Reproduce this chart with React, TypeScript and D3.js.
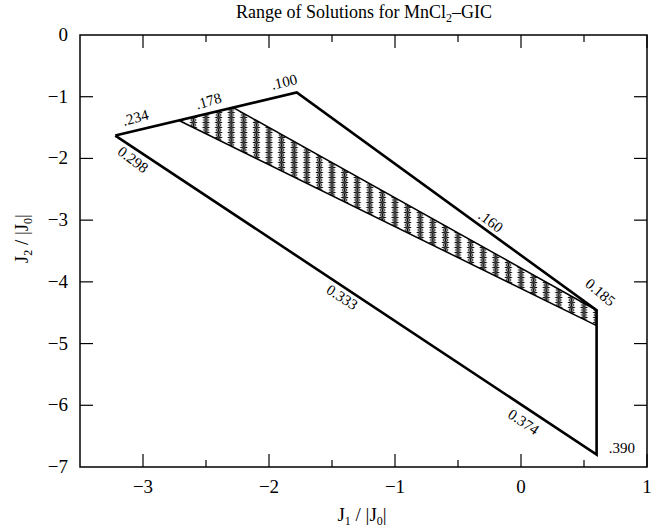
import React from "react";
import * as d3 from "d3";

// ---- data ----
const outerJ1 = [-3.22, -1.78, 0.6, 0.6, -3.22];
const outerJ2 = [-1.63, -0.93, -4.46, -6.8, -1.63];

const hatchJ1 = [-2.71, -2.29, 0.6, 0.6];
const hatchJ2 = [-1.39, -1.17, -4.46, -4.71];

const labelText = [".234", ".178", ".100", "0.298", "0.333", "0.374", ".390", ".160", "0.185"];
const labelJ1 = [-3.06, -2.48, -1.88, -3.08, -1.42, 0.02, 0.8, -0.24, 0.63];
const labelJ2 = [-1.34, -1.07, -0.76, -2.02, -4.25, -6.27, -6.7, -3.02, -4.17];
const labelAngle = [-15, -16, -13, 37, 33, 34, 0, 37, 40];

const xTicks = [-3, -2, -1, 0, 1];
const xMinorTicks = [-2.5, -1.5, -0.5, 0.5];
const yTicks = [0, -1, -2, -3, -4, -5, -6, -7];

const W = 663;
const H = 529;
const M = { left: 80, right: 647, top: 35, bottom: 467 };
const FONT = "'Liberation Serif', 'Times New Roman', Times, serif";

export default function App() {
  const x = d3.scaleLinear().domain([-3.5, 1]).range([M.left, M.right]);
  const y = d3.scaleLinear().domain([-7, 0]).range([M.bottom, M.top]);

  const line = d3
    .line<number>()
    .x((i) => x(outerJ1[i]))
    .y((i) => y(outerJ2[i]));
  const outerPath = line(outerJ1.map((_, i) => i)) as string;

  const hatchPoly = hatchJ1.map((v, i) => [x(v), y(hatchJ2[i])].join(",")).join(" ");

  const pw = x(0.1) - x(0);
  const ph = 5;
  const cx = pw / 2;
  const cy = ph / 2;
  const r = 3.6;
  const dr = 2.5;

  const majorLen = 13;
  const minorLen = 7;

  return (
    <svg
      width={W}
      height={H}
      style={{ position: "absolute", left: 0, top: 0, background: "#fff" }}
      fontFamily={FONT}
    >
      <rect x={0} y={0} width={W} height={H} fill="#fff" />
      <defs>
        <pattern
          id="hatch"
          patternUnits="userSpaceOnUse"
          x={x(-2.6) - cx}
          y={0}
          width={pw}
          height={ph}
        >
          <line x1={cx} x2={cx} y1={0} y2={ph} stroke="#000" strokeWidth={1.6} />
          <line x1={cx - r} x2={cx + r} y1={cy} y2={cy} stroke="#111" strokeWidth={1.1} />
          <line x1={cx - dr} x2={cx + dr} y1={cy - dr} y2={cy + dr} stroke="#444" strokeWidth={1.1} />
          <line x1={cx - dr} x2={cx + dr} y1={cy + dr} y2={cy - dr} stroke="#444" strokeWidth={1.1} />
        </pattern>
      </defs>

      {/* title */}
      <text x={364} y={18} textAnchor="middle" fontSize={18}>
        Range of Solutions for MnCl
        <tspan dy={4} fontSize={12}>2</tspan>
        <tspan dy={-4}>–GIC</tspan>
      </text>

      {/* frame */}
      <rect
        x={M.left}
        y={M.top}
        width={M.right - M.left}
        height={M.bottom - M.top}
        fill="none"
        stroke="#000"
        strokeWidth={1.5}
      />

      {/* x ticks */}
      {xTicks.map((t) => (
        <g key={"xt" + t}>
          <line x1={x(t)} x2={x(t)} y1={M.bottom} y2={M.bottom - majorLen} stroke="#000" strokeWidth={1.2} />
          <line x1={x(t)} x2={x(t)} y1={M.top} y2={M.top + majorLen} stroke="#000" strokeWidth={1.2} />
          <text x={x(t)} y={M.bottom + 26} textAnchor="middle" fontSize={19}>
            {t < 0 ? "−" + Math.abs(t) : String(t)}
          </text>
        </g>
      ))}
      {xMinorTicks.map((t) => (
        <g key={"xm" + t}>
          <line x1={x(t)} x2={x(t)} y1={M.bottom} y2={M.bottom - minorLen} stroke="#000" strokeWidth={1.2} />
          <line x1={x(t)} x2={x(t)} y1={M.top} y2={M.top + minorLen} stroke="#000" strokeWidth={1.2} />
        </g>
      ))}

      {/* y ticks */}
      {yTicks.map((t) => (
        <g key={"yt" + t}>
          {t !== 0 && t !== -7 && (
            <>
              <line x1={M.left} x2={M.left + majorLen} y1={y(t)} y2={y(t)} stroke="#000" strokeWidth={1.2} />
              <line x1={M.right} x2={M.right - majorLen} y1={y(t)} y2={y(t)} stroke="#000" strokeWidth={1.2} />
            </>
          )}
          <text x={M.left - 12} y={y(t) + 6} textAnchor="end" fontSize={19}>
            {t < 0 ? "−" + Math.abs(t) : String(t)}
          </text>
        </g>
      ))}

      {/* axis labels */}
      <text x={362} y={521} textAnchor="middle" fontSize={19}>
        J<tspan dy={4} fontSize={12}>1</tspan>
        <tspan dy={-4}> / |J</tspan>
        <tspan dy={4} fontSize={12}>0</tspan>
        <tspan dy={-4}>|</tspan>
      </text>
      <text
        transform={`translate(28, ${y(-3.3)}) rotate(-90)`}
        textAnchor="middle"
        fontSize={19}
      >
        J<tspan dy={4} fontSize={12}>2</tspan>
        <tspan dy={-4}> / |J</tspan>
        <tspan dy={4} fontSize={12}>0</tspan>
        <tspan dy={-4}>|</tspan>
      </text>

      {/* hatched region */}
      <polygon points={hatchPoly} fill="url(#hatch)" stroke="none" />
      <line
        x1={x(hatchJ1[1])}
        y1={y(hatchJ2[1])}
        x2={x(hatchJ1[2])}
        y2={y(hatchJ2[2])}
        stroke="#000"
        strokeWidth={1.5}
      />
      <line
        x1={x(hatchJ1[0])}
        y1={y(hatchJ2[0])}
        x2={x(hatchJ1[3])}
        y2={y(hatchJ2[3])}
        stroke="#000"
        strokeWidth={1.5}
      />

      {/* outer boundary */}
      <path d={outerPath} fill="none" stroke="#000" strokeWidth={2.6} strokeLinejoin="miter" />

      {/* labels */}
      {labelText.map((t, i) => (
        <text
          key={"lb" + i}
          transform={`translate(${x(labelJ1[i])}, ${y(labelJ2[i])}) rotate(${labelAngle[i]})`}
          textAnchor="middle"
          dominantBaseline="central"
          fontSize={15}
        >
          {t}
        </text>
      ))}
    </svg>
  );
}
